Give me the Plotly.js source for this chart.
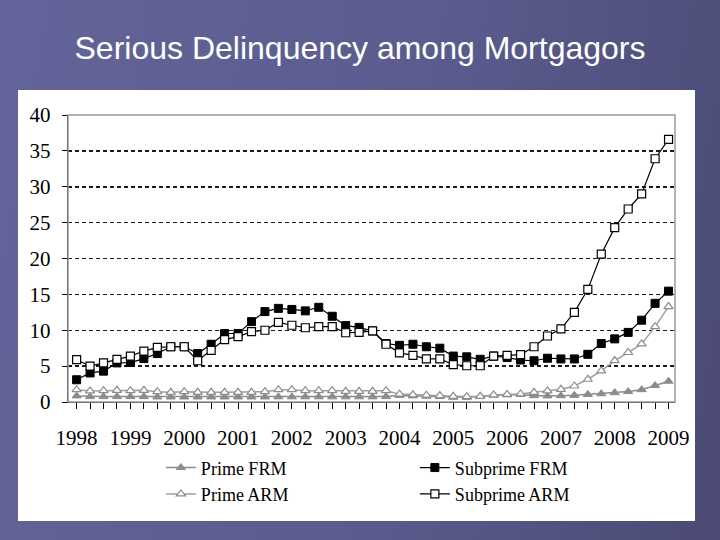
<!DOCTYPE html>
<html>
<head>
<meta charset="utf-8">
<script src="https://cdn.plot.ly/plotly-3.0.1.min.js"></script>
<style>
  html, body { margin: 0; padding: 0; width: 720px; height: 540px; overflow: hidden; }
  body { background: linear-gradient(100deg, #63659a 0%, #5a5c8e 55%, #4a4a74 100%); position: relative; }
  #panel { position: absolute; left: 18px; top: 90px; width: 677px; height: 431px; background: #ffffff; }
  #chart { position: absolute; left: 0; top: 0; width: 720px; height: 540px; }
</style>
</head>
<body>
<div id="panel"></div>
<div id="chart"></div>
<script>
// Year tick labels
var yearLabels = ["1998","1999","2000","2001","2002","2003","2004","2005","2006","2007","2008","2009"];
var yearTicks = [1998,1999,2000,2001,2002,2003,2004,2005,2006,2007,2008,2009];

// Quarterly observations, 1998 Q1 .. 2009 Q1
var quarters = [];
for (var y = 1998; y <= 2009; y++) {
  for (var q = 0; q < 4; q++) {
    if (y === 2009 && q > 0) break;
    quarters.push(y + q * 0.25);
  }
}

var primeFRM = [0.85,0.75,0.75,0.75,0.75,0.75,0.7,0.7,0.7,0.7,0.7,0.7,0.7,0.7,0.7,
  0.72,0.72,0.72,0.72,0.72,0.72,0.72,0.72,0.75,0.9,0.85,0.8,0.75,0.65,0.65,
  0.75,0.95,1.0,1.05,0.88,0.85,0.88,0.93,1.05,1.15,1.3,1.45,1.72,2.3,2.9];

var primeARM = [1.72,1.54,1.58,1.63,1.58,1.63,1.44,1.35,1.44,1.35,1.35,1.35,1.35,1.35,1.44,
  1.72,1.72,1.58,1.58,1.58,1.49,1.49,1.49,1.58,1.1,1.0,0.95,0.9,0.8,0.75,
  0.8,0.98,1.05,1.12,1.35,1.54,1.77,2.23,3.17,4.33,5.77,6.9,8.1,10.5,13.3];

var subprimeFRM = [3.1,4.05,4.3,5.45,5.5,6.05,6.75,7.7,7.7,6.75,8.05,9.55,9.55,11.2,12.6,
  13.05,12.9,12.7,13.2,11.95,10.65,10.4,9.9,8.15,7.9,8.05,7.7,7.5,6.4,6.3,
  5.95,6.4,6.2,5.85,5.75,6.1,6.0,6.0,6.65,8.15,8.8,9.7,11.4,13.75,15.45];

var subprimeARM = [5.9,5.0,5.45,5.95,6.4,7.1,7.6,7.7,7.7,5.75,7.2,8.7,9.1,9.8,10.0,
  11.1,10.7,10.35,10.5,10.5,9.65,9.7,9.9,8.05,6.85,6.5,6.0,6.0,5.2,5.05,
  5.05,6.4,6.5,6.6,7.7,9.2,10.2,12.5,15.7,20.6,24.3,26.9,29.0,33.9,36.6];

var seriesNames = ["Prime FRM","Subprime FRM","Prime ARM","Subprime ARM"];

var gray = "#8c8c8c";
var traces = [
  { x: quarters, y: primeFRM, name: seriesNames[0], mode: "lines+markers",
    line: { color: gray, width: 1.5 },
    marker: { symbol: "triangle-up", size: 8, color: gray, line: { color: gray, width: 1 } } },
  { x: quarters, y: subprimeFRM, name: seriesNames[1], mode: "lines+markers",
    line: { color: "#000000", width: 1.2 },
    marker: { symbol: "square", size: 8, color: "#000000", line: { color: "#000000", width: 1 } } },
  { x: quarters, y: primeARM, name: seriesNames[2], mode: "lines+markers",
    line: { color: "#a0a0a0", width: 1.5 },
    marker: { symbol: "triangle-up", size: 8, color: "#ffffff", line: { color: gray, width: 1.2 } } },
  { x: quarters, y: subprimeARM, name: seriesNames[3], mode: "lines+markers",
    line: { color: "#000000", width: 1.2 },
    marker: { symbol: "square", size: 8, color: "#ffffff", line: { color: "#000000", width: 1.2 } } }
];

var serif = "Liberation Serif, Times New Roman, serif";

var layout = {
  width: 720, height: 540,
  paper_bgcolor: "rgba(0,0,0,0)",
  plot_bgcolor: "#ffffff",
  margin: { l: 68, r: 45, t: 115, b: 138, autoexpand: false },
  title: {
    text: "Serious Delinquency among Mortgagors",
    font: { family: "Liberation Sans, Arial, sans-serif", size: 32, color: "#ffffff" },
    x: 0.5, xanchor: "center", xref: "container",
    y: 1 - 48 / 540, yanchor: "middle", yref: "container"
  },
  xaxis: {
    range: [1998 - 0.16, 2009 + 0.12],
    tickvals: yearTicks, ticktext: yearLabels,
    ticks: "outside", ticklen: 6, tickcolor: "#000000", tickwidth: 1,
    minor: { dtick: 0.25, tick0: 1998, ticks: "outside", ticklen: 6, tickcolor: "#000000", tickwidth: 1, showgrid: false },
    showline: true, linecolor: "#000000", linewidth: 1.2,
    showgrid: false, zeroline: false,
    tickfont: { family: serif, size: 21, color: "#000000" },
    ticklabelstandoff: 11
  },
  yaxis: {
    range: [0, 40], tickvals: [0,5,10,15,20,25,30,35,40],
    ticks: "outside", ticklen: 5, tickcolor: "#000000",
    showline: true, linecolor: "#000000", linewidth: 1.2,
    showgrid: true, gridcolor: "#1a1a1a", gridwidth: 1.5, griddash: "4px,3px",
    zeroline: false,
    tickfont: { family: serif, size: 21, color: "#000000" },
    ticklabelstandoff: 7
  },
  shapes: [
    { type: "rect", xref: "paper", yref: "paper", x0: 0, x1: 1, y0: 0, y1: 1,
      line: { color: "#9a9a9a", width: 1.5 }, layer: "above" }
  ],
  legend: {
    orientation: "h", x: 0.153, xanchor: "left", y: -0.165, yanchor: "top",
    entrywidth: 209, entrywidthmode: "pixels",
    font: { family: serif, size: 18, color: "#000000" },
    bgcolor: "rgba(0,0,0,0)", tracegroupgap: 0, itemwidth: 30
  },
  showlegend: true
};

Plotly.newPlot("chart", traces, layout, { displayModeBar: false, staticPlot: true });
</script>
</body>
</html>
